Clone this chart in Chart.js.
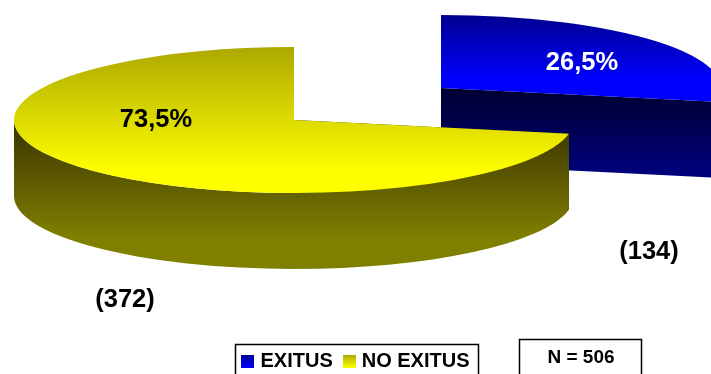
<!DOCTYPE html>
<html>
<head>
<meta charset="utf-8">
<style>
  html, body { margin: 0; padding: 0; background: #fff; overflow: hidden; }
  canvas { display: block; }
</style>
<script src="https://cdn.jsdelivr.net/npm/chart.js@4"></script>
</head>
<body>
<canvas id="myChart" width="711" height="374"></canvas>
<script>
const categories = ['EXITUS', 'NO EXITUS']
const counts = [134, 372]
const percentLabels = ['26,5%', '73,5%']

// look of the tilted pie
const pieX = 294
const pieY = 120
const radius = 280
const squash = 73 / 280
const depth = 76
const sliceShift = [[147, -32], [0, 0]]
const topFade = [[15, 80, '#000090', '#0000ff'], [47, 172, '#aca800', '#ffff00']]
const wallFade = [[88, 178, '#000030', '#000080'], [122, 238, '#3a3300', '#808000']]
const percentPos = [[582, 63, '#fff'], [156, 120, '#000']]
const countPos = [[649, 252], [125, 300]]
const swatchColors = [['#000090', '#0000ff'], ['#aca800', '#ffff00']]
const font = '"Liberation Sans", Arial, sans-serif'

// pixel y on the page -> y inside the squashed drawing space
function localY(chart, i, py) {
  const cy = (chart.chartArea.top + chart.chartArea.bottom) / 2
  return cy + (py - pieY - sliceShift[i][1]) / squash
}

function fade(chart, i, stops) {
  const g = chart.ctx.createLinearGradient(0, localY(chart, i, stops[0]), 0, localY(chart, i, stops[1]))
  g.addColorStop(0, stops[2])
  g.addColorStop(1, stops[3])
  return g
}

function swatch(colors) {
  const c = document.createElement('canvas')
  c.width = 13
  c.height = 13
  const x = c.getContext('2d')
  const g = x.createLinearGradient(0, 0, 0, 13)
  g.addColorStop(0, colors[0])
  g.addColorStop(1, colors[1])
  x.fillStyle = g
  x.fillRect(0, 0, 13, 13)
  return c
}

// perspective bends the slice borders a little, the top one stays put
function bend(a) {
  return a + 0.098 * Math.cos(a)
}

function drawWall(ctx, arc) {
  const d = depth / squash
  const {x, y, startAngle, endAngle} = arc
  // cut faces
  for (const a of [startAngle, endAngle]) {
    ctx.beginPath()
    ctx.moveTo(x, y)
    ctx.lineTo(x + Math.cos(a) * radius, y + Math.sin(a) * radius)
    ctx.lineTo(x + Math.cos(a) * radius, y + d + Math.sin(a) * radius)
    ctx.lineTo(x, y + d)
    ctx.closePath()
    ctx.fill()
  }
  // outer rim, only the part that faces us
  const a0 = Math.max(startAngle, 0)
  const a1 = Math.min(endAngle, Math.PI)
  if (a1 > a0) {
    ctx.beginPath()
    ctx.arc(x, y, radius, a0, a1)
    ctx.arc(x, y + d, radius, a1, a0, true)
    ctx.closePath()
    ctx.fill()
  }
}

const pie3d = {
  id: 'pie3d',
  beforeDatasetDraw(chart, args) {
    const ctx = chart.ctx
    const arcs = args.meta.data
    arcs.forEach((arc, i) => {
      const {startAngle, endAngle} = arc
      arc.startAngle = bend(startAngle)
      arc.endAngle = bend(endAngle)
      ctx.save()
      ctx.translate(pieX + sliceShift[i][0], pieY + sliceShift[i][1])
      ctx.scale(1, squash)
      ctx.translate(-arc.x, -arc.y)
      ctx.fillStyle = fade(chart, i, wallFade[i])
      drawWall(ctx, arc)
      arc.draw(ctx)
      ctx.restore()
      arc.startAngle = startAngle
      arc.endAngle = endAngle
    })
    return false
  },
  afterDraw(chart) {
    const ctx = chart.ctx
    ctx.save()
    ctx.textAlign = 'center'
    ctx.textBaseline = 'middle'
    ctx.font = 'bold 25.5px ' + font
    percentLabels.forEach((t, i) => {
      ctx.fillStyle = percentPos[i][2]
      ctx.fillText(t, percentPos[i][0], percentPos[i][1])
    })
    ctx.fillStyle = '#000'
    counts.forEach((v, i) => {
      ctx.fillText('(' + v + ')', countPos[i][0], countPos[i][1])
    })
    ctx.font = 'bold 19px ' + font
    ctx.fillText('N = ' + counts.reduce((a, b) => a + b, 0), 581, 358)
    ctx.strokeStyle = '#000'
    ctx.lineWidth = 1.5
    ctx.strokeRect(235.5, 344.5, 243, 40)
    ctx.strokeRect(519.5, 339.5, 122, 45)
    ctx.restore()
  }
}

new Chart(document.getElementById('myChart'), {
  type: 'pie',
  data: {
    labels: categories,
    datasets: [{
      data: counts,
      borderWidth: 0,
      backgroundColor: c => c.chart.chartArea ? fade(c.chart, c.dataIndex, topFade[c.dataIndex]) : '#000'
    }]
  },
  options: {
    responsive: false,
    animation: false,
    radius: radius,
    layout: { padding: { left: 4, bottom: -7 } },
    plugins: {
      tooltip: { enabled: false },
      legend: {
        position: 'bottom',
        labels: {
          color: '#000',
          font: { family: font, size: 20, weight: 'bold' },
          usePointStyle: true,
          pointStyleWidth: 5,
          padding: 14,
          generateLabels: () => categories.map((t, i) => ({
            text: t,
            pointStyle: swatch(swatchColors[i]),
            lineWidth: 0,
            index: i
          }))
        }
      }
    }
  },
  plugins: [pie3d]
})
</script>
</body>
</html>
